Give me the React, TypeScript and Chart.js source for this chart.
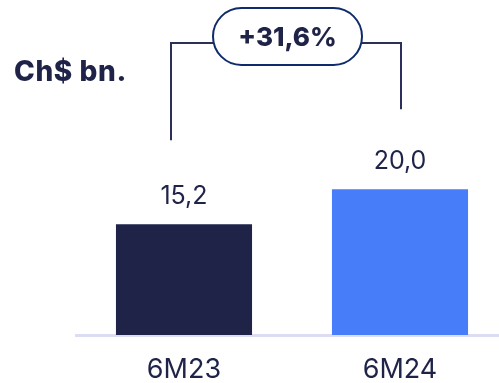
import React, { useEffect, useRef } from "react";
import { Chart, registerables } from "chart.js";

Chart.register(...registerables);

const categories = ["6M23", "6M24"];
const values = [15.2, 20.0];
const valueLabels = ["15,2", "20,0"];
const growthLabel = "+31,6%";
const unitLabel = "Ch$ bn.";
const barColors = ["#1f2348", "#487df9"];

const FONT = "Inter, 'Noto Sans', sans-serif";

const overlayPlugin = {
  id: "overlay",
  afterDatasetsDraw(chart: any) {
    const ctx = chart.ctx;
    const meta = chart.getDatasetMeta(0);
    const b1 = meta.data[0];
    const b2 = meta.data[1];
    ctx.save();
    // value labels
    ctx.fillStyle = "#1f2348";
    ctx.font = `400 25px ${FONT}`;
    ctx.textAlign = "center";
    ctx.textBaseline = "middle";
    meta.data.forEach((bar: any, i: number) => {
      ctx.fillText(valueLabels[i], bar.x, bar.y - 28);
    });
    // unit title
    ctx.font = `800 28px ${FONT}`;
    ctx.textAlign = "left";
    (ctx as any).letterSpacing = "0.6px";
    ctx.fillText(unitLabel, 14, 73);
    (ctx as any).letterSpacing = "0px";
    // bracket
    const lx = b1.x - 13;
    const rx = b2.x + 1;
    const ly = 43;
    const pillL = 213;
    const pillR = 362;
    const pillT = 8;
    const pillB = 65;
    ctx.strokeStyle = "#2b2f5a";
    ctx.lineWidth = 2;
    ctx.beginPath();
    ctx.moveTo(lx, b1.y - 84);
    ctx.lineTo(lx, ly);
    ctx.lineTo(pillL, ly);
    ctx.moveTo(pillR, ly);
    ctx.lineTo(rx, ly);
    ctx.lineTo(rx, b2.y - 80);
    ctx.stroke();
    // pill
    const r = (pillB - pillT) / 2;
    ctx.strokeStyle = "#0f2b6b";
    ctx.lineWidth = 2;
    ctx.fillStyle = "#ffffff";
    ctx.beginPath();
    ctx.moveTo(pillL + r, pillT);
    ctx.lineTo(pillR - r, pillT);
    ctx.arc(pillR - r, pillT + r, r, -Math.PI / 2, Math.PI / 2);
    ctx.lineTo(pillL + r, pillB);
    ctx.arc(pillL + r, pillT + r, r, Math.PI / 2, (3 * Math.PI) / 2);
    ctx.closePath();
    ctx.fill();
    ctx.stroke();
    ctx.fillStyle = "#1f2348";
    ctx.font = `800 26px ${FONT}`;
    ctx.textAlign = "center";
    ctx.fillText(growthLabel, (pillL + pillR) / 2, 38);
    ctx.restore();
  },
};

export default function App() {
  const ref = useRef<HTMLCanvasElement>(null);
  useEffect(() => {
    if (!ref.current) return;
    const chart = new Chart(ref.current, {
      type: "bar",
      data: {
        labels: categories,
        datasets: [
          {
            data: values,
            backgroundColor: barColors,
            borderWidth: 0,
            categoryPercentage: 1,
            barPercentage: 0.63,
          },
        ],
      },
      options: {
        responsive: false,
        animation: false,
        layout: { padding: { left: 76, right: 12, top: 0, bottom: 0 } },
        plugins: { legend: { display: false }, tooltip: { enabled: false }, title: { display: false } },
        scales: {
          y: { display: false, min: 0, max: 46 },
          x: {
            grid: { display: false, drawTicks: false },
            border: { display: true, color: "#dcdcf2", width: 3 },
            ticks: {
              color: "#1f2348",
              font: { family: FONT, size: 27, weight: "400" },
              padding: 19,
            },
            afterFit: (scale: any) => {
              scale.height = 48;
            },
          },
        },
      },
      plugins: [overlayPlugin],
    });
    return () => chart.destroy();
  }, []);
  return (
    <div style={{ position: "fixed", left: 0, top: 0, width: 499, height: 383, overflow: "hidden", background: "#fff" }}>
      <canvas ref={ref} width={520} height={383} style={{ display: "block" }} />
    </div>
  );
}
